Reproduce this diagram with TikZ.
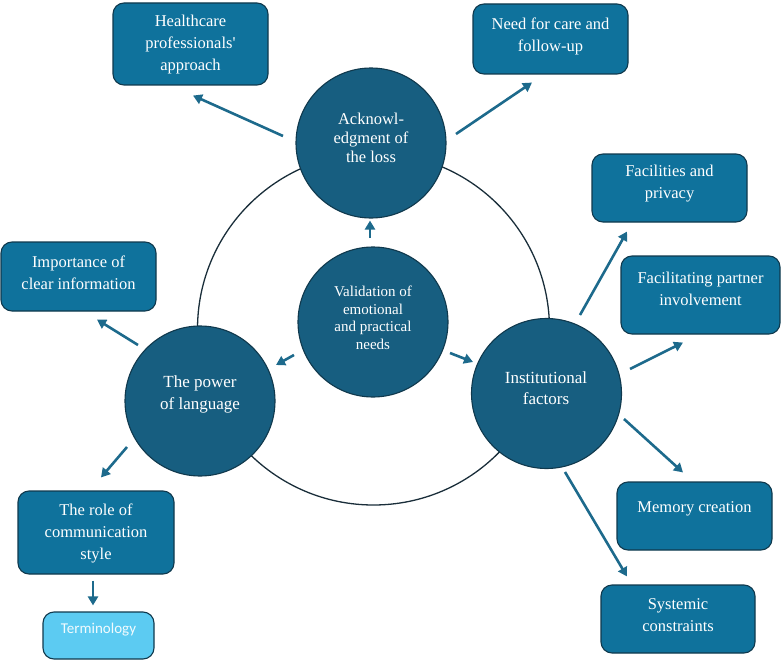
\documentclass[tikz,border=0pt]{standalone}
\usepackage{fontspec}
\setmainfont{Liberation Serif}
\newfontfamily\serifx{Liberation Serif}
\newfontfamily\termfont{Carlito}
\usetikzlibrary{arrows.meta,calc}
\definecolor{circfill}{HTML}{175E80}
\definecolor{boxfill}{HTML}{0F729C}
\definecolor{edgec}{HTML}{10394D}
\definecolor{arrowc}{HTML}{1D6A8C}
\definecolor{termfill}{HTML}{5CCBF2}
\definecolor{ringc}{HTML}{1A2E3A}
\begin{document}
\begin{tikzpicture}[x=1pt,y=-1pt,
  bigcirc/.style={circle,draw=edgec,line width=1.1pt,fill=circfill,minimum size=150pt,inner sep=0pt},
  smallbox/.style={rectangle,rounded corners=11pt,draw=edgec,line width=1.1pt,fill=boxfill,inner sep=0pt},
  lbl/.style={text=white,align=center,inner sep=0pt,font=\serifx\fontsize{16.5}{22}\selectfont},
  clbl/.style={text=white,align=center,inner sep=0pt,font=\serifx\fontsize{17}{21}\selectfont},
  arr/.style={draw=arrowc,line width=2.6pt,-{Triangle[length=9pt,width=10pt]}},
]
\useasboundingbox (0,0) rectangle (782,661);
% ring
\node[circle,draw=ringc,line width=1.3pt,minimum size=352pt,inner sep=0pt] (ring) at (373.5,329) {};
% circles
\node[bigcirc] (ack) at (371,143) {};
\node[bigcirc] (ctr) at (373,322) {};
\node[bigcirc] (pow) at (200,401) {};
\node[bigcirc] (inst) at (546.5,393.5) {};
\node[clbl,font=\serifx\fontsize{16.5}{19}\selectfont] (ackt) at (371,138) {Acknowl-\\edgment of\\the loss};
\node[clbl,font=\serifx\fontsize{15}{17.5}\selectfont] (ctrt) at (373,318) {Validation of\\emotional\\and practical\\needs};
\node[clbl,font=\serifx\fontsize{17}{22}\selectfont] (powt) at (200,394) {The power\\of language};
\node[clbl] (instt) at (546,388) {Institutional\\factors};
% boxes
\node[smallbox,minimum width=155pt,minimum height=82pt] (hc) at (190.5,44) {};
\node[smallbox,minimum width=155pt,minimum height=70pt] (need) at (550.5,39) {};
\node[smallbox,minimum width=155pt,minimum height=68pt] (fac) at (669.5,188) {};
\node[smallbox,minimum width=159pt,minimum height=78pt] (part) at (700.5,295) {};
\node[smallbox,minimum width=155pt,minimum height=69pt] (imp) at (78.5,276.5) {};
\node[smallbox,minimum width=155pt,minimum height=68pt] (mem) at (694.5,516) {};
\node[smallbox,minimum width=154pt,minimum height=68pt] (sys) at (678,619) {};
\node[smallbox,minimum width=156pt,minimum height=83pt] (role) at (96,532.5) {};
\node[smallbox,fill=termfill,minimum width=111pt,minimum height=47pt] (term) at (98.5,635.5) {};
\node[lbl] (hct) at (190.5,45) {Healthcare\\professionals\char"0027\\approach};
\node[lbl] (needt) at (550.5,36) {Need for care and\\follow-up};
\node[lbl] (fact) at (669.5,183.5) {Facilities and\\privacy};
\node[lbl] (partt) at (700.5,289) {Facilitating partner\\involvement};
\node[lbl] (impt) at (78.5,272.5) {Importance of\\clear information};
\node[lbl] (memt) at (694.5,509) {Memory creation};
\node[lbl] (syst) at (678,615) {Systemic\\constraints};
\node[lbl] (rolet) at (96,533.5) {The role of\\communication\\style};
\node[lbl,text=white!92!termfill,font=\termfont\fontsize{15}{18}\selectfont] (termt) at (98.5,630) {Terminology};
% arrows
\draw[arr] ($(ack)+(-88,-7)$) -- ($(hc.south)+(2.5,10)$);
\draw[arr] ($(ack)+(85,-9)$) -- ($(need.south)+(-18.5,8)$);
\draw[arr] ($(ctr)+(-3,-84)$) -- ($(ack.south)+(-1,2)$);
\draw[arr] ($(ctr)+(-79,33)$) -- ($(pow)+(76,-36)$);
\draw[arr] ($(ctr)+(77,31)$) -- ($(inst)+(-73.5,-31.5)$);
\draw[arr] ($(pow)+(-62,-56)$) -- ($(imp.south)+(18.5,8)$);
\draw[arr] ($(pow)+(-73,46)$) -- ($(role.north)+(5,-13)$);
\draw[arr] ($(role.south)+(-3,6)$) -- ($(term.north)+(-5.5,-6)$);
\draw[arr] ($(inst)+(33.5,-78.5)$) -- ($(fac.south)+(-42.5,9)$);
\draw[arr] ($(inst)+(83.5,-24.5)$) -- ($(part.south)+(-17.5,8)$);
\draw[arr] ($(inst)+(77.5,25.5)$) -- ($(mem.north)+(-11.5,-9)$);
\draw[arr] ($(inst)+(18.5,78.5)$) -- ($(sys.north)+(-51,-8)$);
\end{tikzpicture}
\end{document}
